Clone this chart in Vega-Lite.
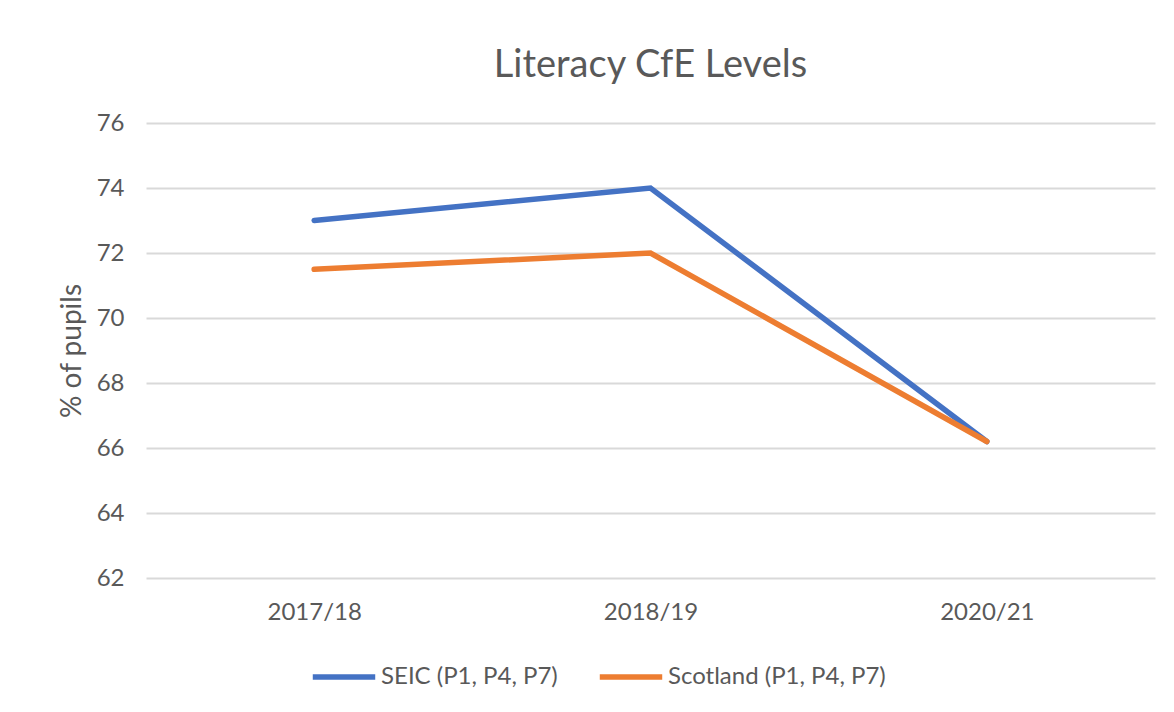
{
  "$schema": "https://vega.github.io/schema/vega-lite/v6.json",
  "width": 1009,
  "height": 455,
  "autosize": {"type": "none"},
  "padding": {"left": 146, "top": 123, "right": 19, "bottom": 134},
  "background": "white",
  "title": {
    "text": "Literacy CfE Levels",
    "font": "Lato",
    "fontSize": 38,
    "fontWeight": "normal",
    "color": "#595959",
    "anchor": "middle",
    "offset": 26
  },
  "data": {
    "values": [
      {"year": "2017/18", "series": "SEIC (P1, P4, P7)", "value": 73.0},
      {"year": "2018/19", "series": "SEIC (P1, P4, P7)", "value": 74.0},
      {"year": "2020/21", "series": "SEIC (P1, P4, P7)", "value": 66.2},
      {"year": "2017/18", "series": "Scotland (P1, P4, P7)", "value": 71.5},
      {"year": "2018/19", "series": "Scotland (P1, P4, P7)", "value": 72.0},
      {"year": "2020/21", "series": "Scotland (P1, P4, P7)", "value": 66.2}
    ]
  },
  "mark": {"type": "line", "strokeWidth": 5.5, "strokeCap": "round", "strokeJoin": "miter"},
  "encoding": {
    "x": {
      "field": "year",
      "type": "ordinal",
      "scale": {"type": "point", "padding": 0.5},
      "axis": {
        "title": null,
        "labelAngle": 0,
        "domain": false,
        "ticks": false,
        "grid": false,
        "labelPadding": 22,
        "labelFont": "Lato",
        "labelFontSize": 24,
        "labelColor": "#595959"
      }
    },
    "y": {
      "field": "value",
      "type": "quantitative",
      "scale": {"domain": [62, 76], "nice": false, "zero": false},
      "axis": {
        "title": "% of pupils",
        "titleFont": "Lato",
        "titleFontSize": 28,
        "titleFontWeight": "normal",
        "titleColor": "#595959",
        "titlePadding": 10,
        "values": [62, 64, 66, 68, 70, 72, 74, 76],
        "domain": false,
        "ticks": false,
        "labelPadding": 22,
        "labelFont": "Lato",
        "labelFontSize": 24,
        "labelColor": "#595959",
        "gridColor": "#d9d9d9",
        "gridWidth": 2
      }
    },
    "color": {
      "field": "series",
      "type": "nominal",
      "sort": ["SEIC (P1, P4, P7)", "Scotland (P1, P4, P7)"],
      "scale": {"domain": ["SEIC (P1, P4, P7)", "Scotland (P1, P4, P7)"], "range": ["#4472C4", "#ED7D31"]},
      "legend": {
        "title": null,
        "orient": "none",
        "legendX": 164,
        "legendY": 520,
        "direction": "horizontal",
        "symbolType": "stroke",
        "symbolSize": 3900,
        "symbolStrokeWidth": 5.5,
        "labelOffset": 3,
        "labelLimit": 500,
        "columnPadding": 30,
        "labelFont": "Lato",
        "labelFontSize": 24,
        "labelColor": "#595959"
      }
    }
  },
  "config": {"view": {"stroke": null}}
}
